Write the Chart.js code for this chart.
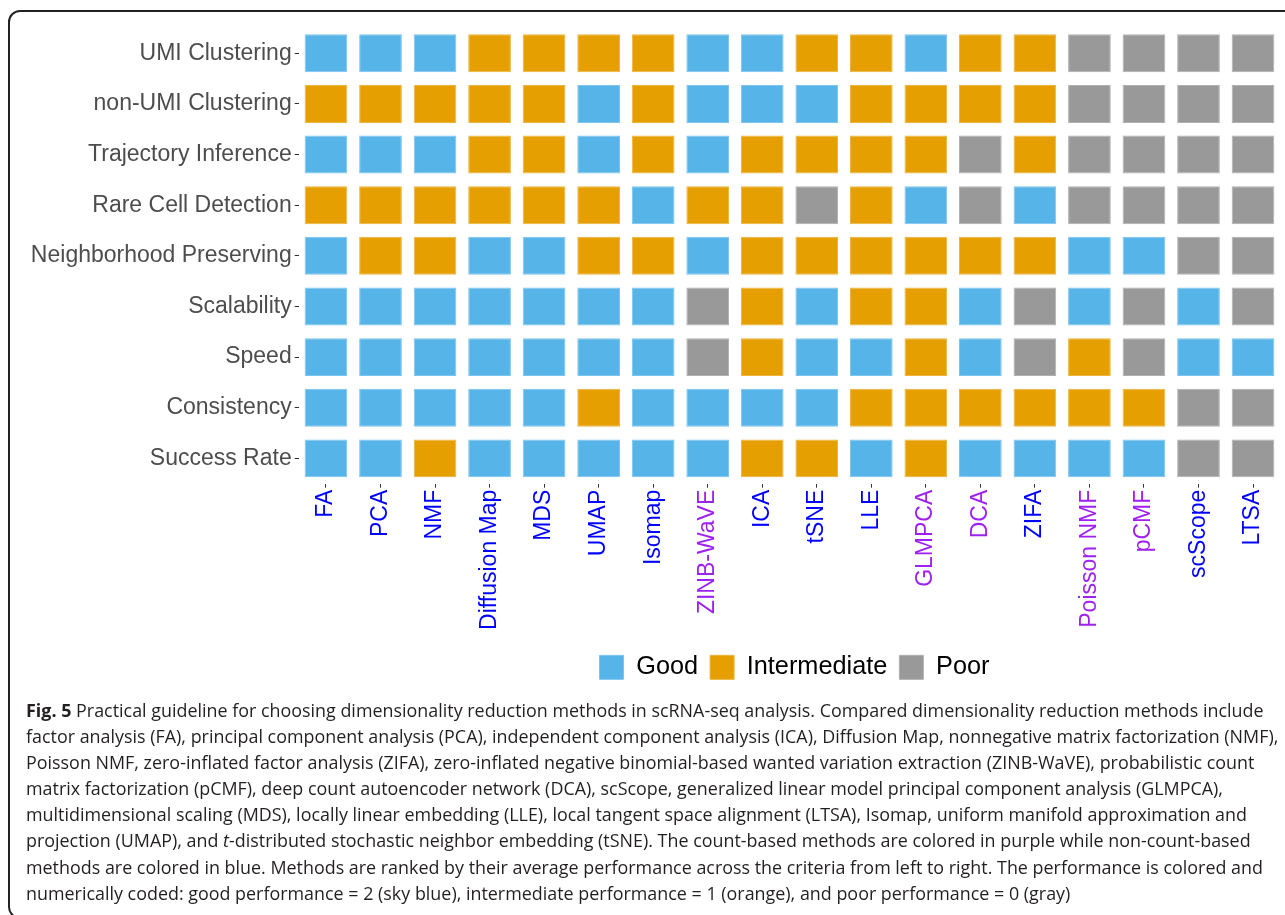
<!DOCTYPE html>
<html>
<head>
<meta charset="utf-8">
<script src="https://cdn.jsdelivr.net/npm/chart.js@4"></script>
<style>
  html, body { margin: 0; padding: 0; background: #fff; }
  body { width: 1285px; height: 915px; position: relative; overflow: hidden; }
  #frame { position: absolute; left: 8px; top: 10px; width: 1300px; height: 909px; box-sizing: border-box;
           border: 2px solid #222; border-radius: 12px; }
  #chartWrap { position: absolute; left: 0; top: 0; width: 1285px; height: 700px; }
  #caption { position: absolute; left: 26px; top: 697px; font-family: "Open Sans", sans-serif; font-size: 18px;
             line-height: 26.1px; color: #231f20; }
  #caption .ln { white-space: nowrap; transform-origin: 0 50%; }
</style>
</head>
<body>
<div id="frame"></div>
<div id="chartWrap"><canvas id="c" width="1285" height="700"></canvas></div>
<div id="caption">
  <div class="ln"><b>Fig. 5</b> Practical guideline for choosing dimensionality reduction methods in scRNA-seq analysis. Compared dimensionality reduction methods include</div>
  <div class="ln">factor analysis (FA), principal component analysis (PCA), independent component analysis (ICA), Diffusion Map, nonnegative matrix factorization (NMF),</div>
  <div class="ln">Poisson NMF, zero-inflated factor analysis (ZIFA), zero-inflated negative binomial-based wanted variation extraction (ZINB-WaVE), probabilistic count</div>
  <div class="ln">matrix factorization (pCMF), deep count autoencoder network (DCA), scScope, generalized linear model principal component analysis (GLMPCA),</div>
  <div class="ln">multidimensional scaling (MDS), locally linear embedding (LLE), local tangent space alignment (LTSA), Isomap, uniform manifold approximation and</div>
  <div class="ln">projection (UMAP), and <i>t</i>-distributed stochastic neighbor embedding (tSNE). The count-based methods are colored in purple while non-count-based</div>
  <div class="ln">methods are colored in blue. Methods are ranked by their average performance across the criteria from left to right. The performance is colored and</div>
  <div class="ln">numerically coded: good performance = 2 (sky blue), intermediate performance = 1 (orange), and poor performance = 0 (gray)</div>
</div>
<script>
// ---------- data ----------
const methods = ['FA','PCA','NMF','Diffusion Map','MDS','UMAP','Isomap','ZINB-WaVE','ICA','tSNE','LLE','GLMPCA','DCA','ZIFA','Poisson NMF','pCMF','scScope','LTSA'];
const countBasedMethods = ['ZINB-WaVE','GLMPCA','DCA','Poisson NMF','pCMF'];
const criteria = ['UMI Clustering','non-UMI Clustering','Trajectory Inference','Rare Cell Detection','Neighborhood Preserving','Scalability','Speed','Consistency','Success Rate'];
const levelNames = ['Poor','Intermediate','Good']; // score 0, 1, 2
const legendOrder = [2, 1, 0];

// scores per criterion, one per method (2 = good, 1 = intermediate, 0 = poor)
const umiClustering          = [2,2,2,1,1,1,1,2,2,1,1,2,1,1,0,0,0,0];
const nonUmiClustering       = [1,1,1,1,1,2,1,2,2,2,1,1,1,1,0,0,0,0];
const trajectoryInference    = [2,2,2,1,1,2,1,2,1,1,1,1,0,1,0,0,0,0];
const rareCellDetection      = [1,1,1,1,1,1,2,1,1,0,1,2,0,2,0,0,0,0];
const neighborhoodPreserving = [2,1,1,2,2,1,1,2,1,1,1,1,1,1,2,2,0,0];
const scalability            = [2,2,2,2,2,2,2,0,1,2,1,1,2,0,2,0,2,0];
const speed                  = [2,2,2,2,2,2,2,0,1,2,2,1,2,0,1,0,2,2];
const consistency            = [2,2,2,2,2,1,2,2,2,2,1,1,1,1,1,1,0,0];
const successRate            = [2,2,1,2,2,2,2,2,1,1,2,1,2,2,2,2,0,0];
const scoreRows = [umiClustering, nonUmiClustering, trajectoryInference, rareCellDetection,
                   neighborhoodPreserving, scalability, speed, consistency, successRate];

// ---------- styles ----------
const fillColors = ['#999999', '#E69F00', '#56B4E9'];
const edgeColors = ['#b0b0b0', '#ecb43c', '#7cc4ee'];
const HALF = 0.375; // half tile height in row units

const datasets = scoreRows.map((scores, r) => ({
  label: criteria[r],
  data: methods.map(() => [r - HALF, r + HALF]),
  backgroundColor: scores.map(s => fillColors[s]),
  borderColor: scores.map(s => edgeColors[s]),
  borderWidth: 1,
  borderSkipped: false,
  grouped: false,
  barPercentage: 0.783,
  categoryPercentage: 1
}));

// nudge the legend to sit centred under the panel as in the reference
const legendNudge = {
  id: 'legendNudge',
  afterLayout(chart) {
    if (chart.legend) { chart.legend.left += 5; chart.legend.right += 5; }
  }
};

new Chart(document.getElementById('c'), {
  type: 'bar',
  data: { labels: methods, datasets },
  plugins: [legendNudge],
  options: {
    responsive: false,
    animation: false,
    devicePixelRatio: 1,
    layout: { padding: { top: 28, right: 4.7, bottom: 10, left: 0 } },
    plugins: {
      tooltip: { enabled: false },
      legend: {
        display: true,
        position: 'bottom',
        fullSize: false,
        onClick: null,
        labels: {
          boxWidth: 24, boxHeight: 24, padding: 12,
          color: '#000',
          font: { family: 'Liberation Sans', size: 25.3 },
          generateLabels: () => legendOrder.map(s => ({
            text: levelNames[s],
            fillStyle: fillColors[s], strokeStyle: edgeColors[s], lineWidth: 1, hidden: false
          }))
        }
      }
    },
    scales: {
      x: {
        type: 'category',
        offset: true,
        border: { display: false },
        grid: { offset: false, drawOnChartArea: false, tickLength: 4, color: '#333' },
        ticks: {
          autoSkip: false, minRotation: 90, maxRotation: 90, padding: 2,
          font: { family: 'Liberation Sans', size: 23 },
          color: (ctx) => countBasedMethods.includes(methods[ctx.index]) ? '#A020F0' : '#0000FF'
        },
        afterFit: (s) => { s.height = 159; }
      },
      y: {
        type: 'linear',
        min: -0.5, max: 8.5,
        bounds: 'data',
        reverse: true,
        border: { display: false },
        grid: { drawOnChartArea: false, tickLength: 4, color: '#333' },
        afterBuildTicks: (s) => { s.ticks = criteria.map((c, i) => ({ value: i })); },
        ticks: {
          autoSkip: false, padding: 3,
          font: { family: 'Liberation Sans', size: 23 },
          color: '#4d4d4d',
          callback: (v) => criteria[v]
        },
        afterFit: (s) => { s.width = 298.7; }
      }
    }
  }
});

// fit caption lines to the reference width
(function fitCaption() {
  const lines = document.querySelectorAll('#caption .ln');
  const w1 = lines[0].scrollWidth;
  const k = (1278 - 26) / w1;
  lines.forEach(l => { l.style.transform = 'scaleX(' + k + ')'; });
})();
</script>
</body>
</html>
